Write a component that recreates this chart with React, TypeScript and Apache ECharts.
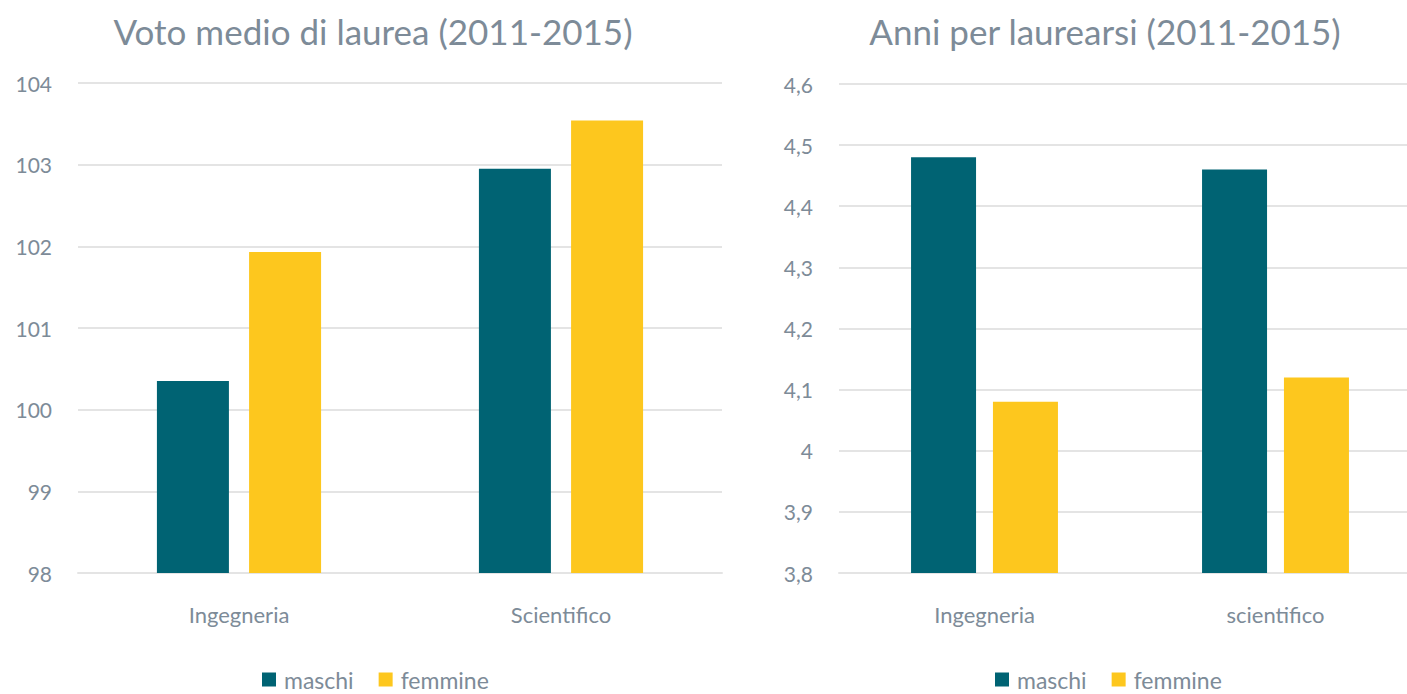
import React, { useEffect, useRef } from "react";
import * as echarts from "echarts";

const categoriesLeft = ["Ingegneria", "Scientifico"];
const categoriesRight = ["Ingegneria", "scientifico"];
const votoMaschi = [100.35, 102.95];
const votoFemmine = [101.93, 103.54];
const anniMaschi = [4.48, 4.46];
const anniFemmine = [4.08, 4.12];
const seriesNames = ["maschi", "femmine"];

const TEAL = "#006373";
const YELLOW = "#FDC71E";
const TEXT = "#7d8b98";
const GRID = "#e4e4e4";
const FONT = "Lato, 'Noto Sans', sans-serif";

export default function App() {
  const ref = useRef<HTMLDivElement>(null);
  useEffect(() => {
    if (!ref.current) return;
    const chart = echarts.init(ref.current, null, { renderer: "svg" });
    const yLabel = { color: TEXT, fontSize: 21, fontFamily: FONT };
    const xLabel = { color: TEXT, fontSize: 22, fontFamily: FONT };
    const fmt = (v: number) => String(Number(v.toFixed(1))).replace(".", ",");
    const legendBase = {
      data: seriesNames,
      top: 668,
      padding: 0,
      itemWidth: 14,
      itemHeight: 14,
      itemGap: 25,
      icon: "rect",
      textStyle: { color: TEXT, fontSize: 23, fontFamily: FONT, padding: [0, 0, 0, 3] },
    };
    chart.setOption({
      animation: false,
      backgroundColor: "#ffffff",
      textStyle: { fontFamily: FONT },
      title: [
        {
          text: "Voto medio di laurea (2011-2015)",
          left: 368,
          top: 8,
          textAlign: "center",
          textStyle: { color: TEXT, fontSize: 35, fontWeight: "normal", fontFamily: FONT },
        },
        {
          text: "Anni per laurearsi (2011-2015)",
          left: 1100,
          top: 8,
          textAlign: "center",
          textStyle: { color: TEXT, fontSize: 35, fontWeight: "normal", fontFamily: FONT },
        },
      ],
      legend: [
        { ...legendBase, left: 262 },
        { ...legendBase, left: 995 },
      ],
      grid: [
        { left: 78, width: 644, top: 83, bottom: 121, containLabel: false },
        { left: 839, width: 582, top: 84, bottom: 121, containLabel: false },
      ],
      xAxis: [
        {
          type: "category",
          gridIndex: 0,
          data: categoriesLeft,
          axisLine: { show: true, lineStyle: { color: GRID, width: 2 } },
          axisTick: { show: false },
          axisLabel: { ...xLabel, margin: 30 },
        },
        {
          type: "category",
          gridIndex: 1,
          data: categoriesRight,
          axisLine: { show: true, lineStyle: { color: GRID, width: 2 } },
          axisTick: { show: false },
          axisLabel: { ...xLabel, margin: 30 },
        },
      ],
      yAxis: [
        {
          type: "value",
          gridIndex: 0,
          min: 98,
          max: 104,
          interval: 1,
          axisLine: { show: false },
          axisTick: { show: false },
          splitLine: { lineStyle: { color: GRID, width: 2 } },
          axisLabel: { ...yLabel, margin: 26 },
        },
        {
          type: "value",
          gridIndex: 1,
          min: 3.8,
          max: 4.6,
          interval: 0.1,
          axisLine: { show: false },
          axisTick: { show: false },
          splitLine: { lineStyle: { color: GRID, width: 2 } },
          axisLabel: { ...yLabel, margin: 26, formatter: fmt },
        },
      ],
      series: [
        {
          name: seriesNames[0],
          type: "bar",
          xAxisIndex: 0,
          yAxisIndex: 0,
          data: votoMaschi,
          barWidth: 72,
          barGap: "28%",
          itemStyle: { color: TEAL },
        },
        {
          name: seriesNames[1],
          type: "bar",
          xAxisIndex: 0,
          yAxisIndex: 0,
          data: votoFemmine,
          barWidth: 72,
          barGap: "28%",
          itemStyle: { color: YELLOW },
        },
        {
          name: seriesNames[0],
          type: "bar",
          xAxisIndex: 1,
          yAxisIndex: 1,
          data: anniMaschi,
          barWidth: 65,
          barGap: "26%",
          itemStyle: { color: TEAL },
        },
        {
          name: seriesNames[1],
          type: "bar",
          xAxisIndex: 1,
          yAxisIndex: 1,
          data: anniFemmine,
          barWidth: 65,
          barGap: "26%",
          itemStyle: { color: YELLOW },
        },
      ],
    });
    return () => chart.dispose();
  }, []);
  return (
    <div
      style={{
        position: "fixed",
        left: 0,
        top: 0,
        width: 1407,
        height: 694,
        overflow: "hidden",
        background: "#fff",
      }}
    >
      <div ref={ref} style={{ width: 1421, height: 694 }} />
    </div>
  );
}
